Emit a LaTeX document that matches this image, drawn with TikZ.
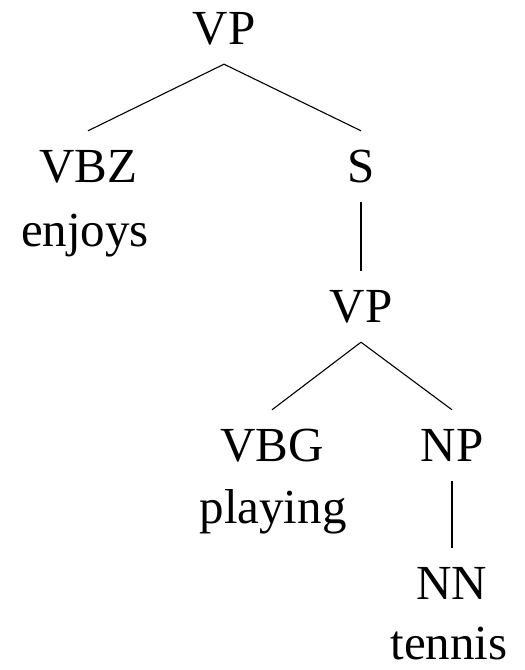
\documentclass[tikz,border=0pt]{standalone}
\usepackage{fontspec}
\setmainfont{Liberation Serif}
\usepackage{tikz}
\usetikzlibrary{positioning}

\begin{document}
\begin{tikzpicture}[x=1pt,y=1pt,
    cat/.style={anchor=base,inner xsep=0pt,inner ysep=19pt,text height=33pt,text depth=0pt,font=\fontsize{49}{58}\selectfont},
    word/.style={anchor=base,inner sep=0pt,font=\fontsize{49}{58}\selectfont},
    edge/.style={line width=1.1pt}]
    \useasboundingbox(0,0)rectangle(525,670);
    % categories
    \node[cat](vp)at(224,625){VP};
    \node[cat](vbz)at(88,487){VBZ};
    \node[cat](s)at(361,487){S};
    \node[cat](vpb)at(361,347){VP};
    \node[cat](vbg)at(272,208){VBG};
    \node[cat](np)at(452,208){NP};
    \node[cat](nn)at(452,70){NN};
    % words
    \node[word](enjoys)at(85,423){enjoys};
    \node[word](playing)at(273,146){playing};
    \node[word](tennis)at(449,10){tennis};
    % branches
    \draw[edge](vp.south)--(vbz.north);
    \draw[edge](vp.south)--(s.north);
    \draw[edge](s.south)--(vpb.north);
    \draw[edge](vpb.south)--(vbg.north);
    \draw[edge](vpb.south)--(np.north);
    \draw[edge](np.south)--(nn.north);
  \end{tikzpicture}
\end{document}
